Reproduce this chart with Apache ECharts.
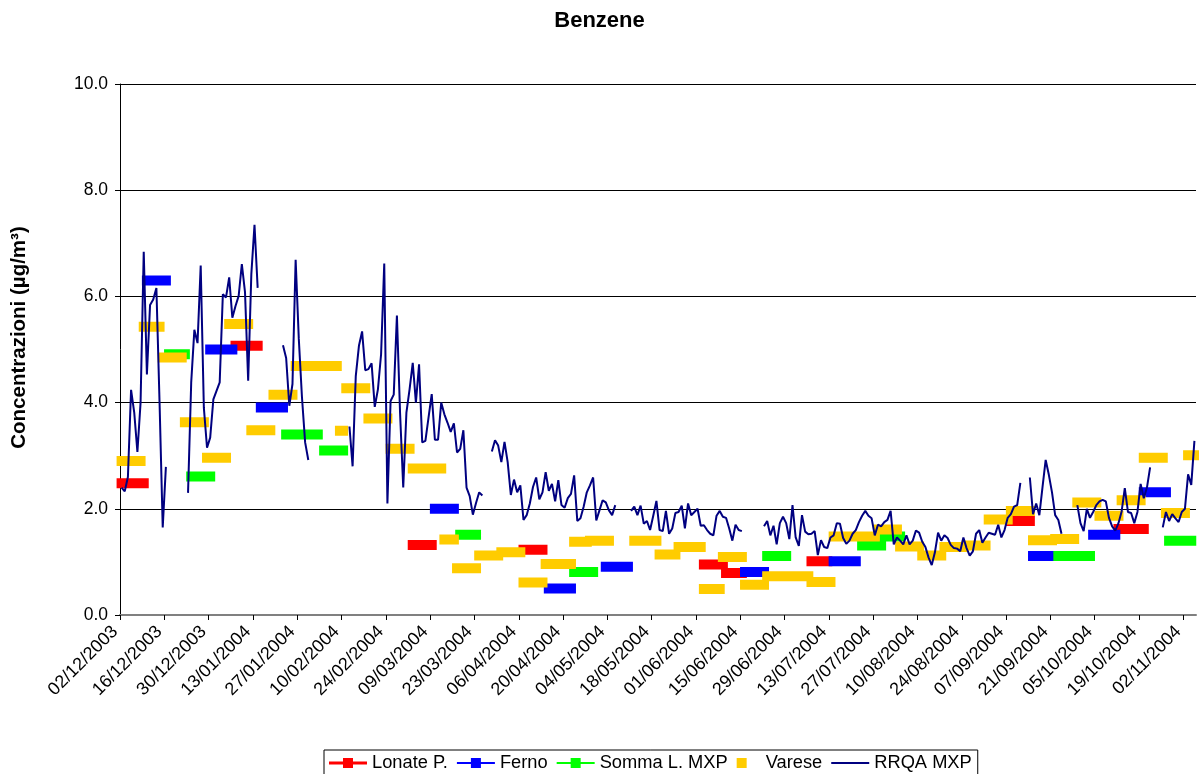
<!DOCTYPE html>
<html>
<head>
<meta charset="utf-8">
<title>Benzene</title>
<script src="https://cdn.jsdelivr.net/npm/echarts@6/dist/echarts.min.js"></script>
<style>
  html, body { margin: 0; padding: 0; background: #fff; }
  #main { width: 1199px; height: 774px; }
</style>
</head>
<body>
<div id="main"></div>
<script>
// giorni contati dal 02/12/2003 (giorno 0), un tick ogni 14 giorni
const xTickLabels = [
  "02/12/2003", "16/12/2003", "30/12/2003", "13/01/2004", "27/01/2004",
  "10/02/2004", "24/02/2004", "09/03/2004", "23/03/2004", "06/04/2004",
  "20/04/2004", "04/05/2004", "18/05/2004", "01/06/2004", "15/06/2004",
  "29/06/2004", "13/07/2004", "27/07/2004", "10/08/2004", "24/08/2004",
  "07/09/2004", "21/09/2004", "05/10/2004", "19/10/2004", "02/11/2004"
];

// campagne: [primo giorno, ultimo giorno, media µg/m³]
const lonate = [
  [0, 7, 2.48], [36, 43, 5.07], [92, 98, 1.32], [127, 133, 1.23],
  [184, 190, 0.95], [191, 196, 0.79], [218, 223, 1.01], [281, 287, 1.77],
  [315, 323, 1.62]
];
const ferno = [
  [8, 14, 6.30], [28, 35, 5.00], [44, 51, 3.91], [99, 105, 2.00],
  [135, 142, 0.50], [153, 160, 0.91], [197, 203, 0.81], [225, 232, 1.01],
  [288, 294, 1.11], [307, 314, 1.51], [323, 330, 2.31]
];
const somma = [
  [15, 20, 4.91], [22, 28, 2.61], [52, 62, 3.40], [64, 70, 3.10],
  [107, 112, 1.51], [143, 149, 0.81], [204, 210, 1.11], [234, 240, 1.31],
  [241, 246, 1.48], [296, 306, 1.11], [331, 338, 1.40]
];
const varese = [
  [0, 6, 2.90], [7, 12, 5.43], [13, 19, 4.85], [20, 26, 3.63], [27, 33, 2.96],
  [34, 40, 5.48], [41, 47, 3.48], [48, 54, 4.15], [55, 61, 4.69], [62, 68, 4.69],
  [69, 70, 3.47], [71, 77, 4.27], [78, 84, 3.70], [85, 91, 3.13], [92, 101, 2.76],
  [102, 105, 1.42], [106, 112, 0.88], [113, 119, 1.12], [120, 126, 1.18],
  [127, 133, 0.61], [134, 142, 0.96], [143, 147, 1.38], [148, 154, 1.40],
  [162, 169, 1.40], [170, 175, 1.14], [176, 183, 1.28], [184, 189, 0.49],
  [190, 196, 1.09], [197, 203, 0.57], [204, 210, 0.73], [211, 217, 0.73],
  [218, 224, 0.62], [225, 231, 1.48], [232, 238, 1.48], [239, 245, 1.61],
  [246, 252, 1.29], [253, 259, 1.12], [260, 266, 1.28], [267, 273, 1.31],
  [274, 280, 1.80], [281, 287, 1.96], [288, 294, 1.41], [295, 301, 1.43],
  [302, 308, 2.12], [309, 315, 1.87], [316, 322, 2.16], [323, 329, 2.96],
  [330, 336, 1.92], [337, 339, 3.01]
];

// RRQA MXP: media giornaliera, null = dato mancante
const rrqa = [
  2.40, 2.33, 2.6, 4.24, 3.81, 3.07, 4.0, 6.84, 4.53, 5.84, 5.94, 6.16, 4.0, 1.65, 2.79,
  null, null, null, null, null, null,
  2.30, 4.38, 5.37, 5.12, 6.58, 3.9, 3.15, 3.34, 4.06, 4.22, 4.38, 6.04, 5.98, 6.36,
  5.60, 5.82, 6.01, 6.61, 6.08, 4.41, 6.42, 7.35, 6.16,
  null, null, null, null, null, null, null,
  5.08, 4.84, 3.94, 4.35, 6.69, 5.2, 4.1, 3.25, 2.92,
  null, null, null, null, null, null, null, null, null, null, null, null,
  3.55, 2.80, 4.5, 5.07, 5.34, 4.61, 4.63, 4.74, 3.92, 4.25, 4.91, 6.62, 2.10, 4.03,
  4.15, 5.64, 3.80, 2.40, 3.81, 4.25, 4.75, 4.0, 4.72, 3.25, 3.28, 3.72, 4.16, 3.30,
  3.30, 4.0, 3.78, 3.62, 3.45, 3.61, 3.06, 3.13, 3.48, 2.40, 2.24, 1.89, 2.11, 2.31, 2.25,
  null, null,
  3.08, 3.29, 3.19, 2.88, 3.26, 2.88, 2.26, 2.55, 2.31, 2.44,
  1.79, 1.88, 2.10, 2.41, 2.59, 2.18, 2.31, 2.69, 2.34, 2.47,
  2.14, 2.54, 2.07, 2.02, 2.20, 2.28, 2.63, 1.77, 1.82, 2.04,
  2.31, 2.44, 2.59, 1.78, 1.97, 2.16, 2.12, 1.97, 1.88, 2.07,
  null, null, null, null,
  1.96, 2.04, 1.88, 2.06, 1.72, 1.77, 1.60, 1.87, 2.15, 1.60, 1.58, 1.96, 1.53, 1.63, 1.92, 1.94,
  2.06, 1.63, 2.10, 1.88, 1.94, 2.00, 1.68, 1.69, 1.60, 1.53,
  1.50, 1.87, 1.96, 1.85, 1.83, 1.63, 1.40, 1.70, 1.60, 1.58,
  null, null, null, null, null, null,
  1.67, 1.77, 1.50, 1.68, 1.33, 1.73, 1.85, 1.73, 1.43, 2.07, 1.46, 1.30, 1.88,
  1.57, 1.52, 1.53, 1.58, 1.13, 1.41, 1.28, 1.26, 1.46, 1.50, 1.73, 1.72,
  1.45, 1.34, 1.40, 1.53, 1.60, 1.75, 1.87, 1.96, 1.87, 1.82, 1.50, 1.70,
  1.67, 1.75, 1.79, 1.96, 1.33, 1.46, 1.40, 1.33, 1.50, 1.33, 1.40, 1.59,
  1.55, 1.38, 1.28, 1.08, 0.94, 1.18, 1.55, 1.40, 1.50, 1.45, 1.32,
  1.26, 1.25, 1.20, 1.46, 1.26, 1.12, 1.20, 1.53, 1.60, 1.36, 1.46,
  1.55, 1.53, 1.51, 1.70, 1.46, 1.60, 1.83, 1.90, 2.04, 2.07, 2.49,
  null, null,
  2.59, 1.90, 2.10, 1.88, 2.41, 2.92, 2.64, 2.31, 1.88, 1.79, 1.53,
  null, null, null, null,
  2.07, 1.73, 1.58, 2.00, 1.83, 1.94, 2.07, 2.14, 2.17, 2.14, 1.83, 1.67,
  1.59, 1.73, 1.95, 2.39, 1.94, 1.92, 1.73, 1.94, 2.47, 2.2, 2.4, 2.78,
  null, null, null,
  1.65, 1.94, 1.77, 1.90, 1.82, 1.75, 1.94, 2.0, 2.65, 2.45, 3.28
];

const font = "'Liberation Sans', Arial, sans-serif";

// ogni giorno sta al centro della sua casella
function toBlocks(list) {
  const out = [];
  list.forEach(([from, to, v]) => {
    out.push([from + 0.5, v], [to + 0.5, v], [to + 1, "-"]);
  });
  return out;
}

function blockSeries(name, color, list) {
  return {
    name: name,
    type: "line",
    data: toBlocks(list),
    symbol: "none",
    clip: false,
    color: color,
    lineStyle: { color: color, width: 10, cap: "square" },
    itemStyle: { color: color },
  };
}

const option = {
  animation: false,
  backgroundColor: "#fff",
  title: {
    text: "Benzene",
    left: "center",
    top: 5,
    textStyle: { fontFamily: font, fontSize: 22, fontWeight: "bold", color: "#000" },
  },
  grid: { left: 120, right: 3, top: 84, bottom: 159 },
  legend: {
    left: 324,
    top: 750,
    itemWidth: 38,
    itemHeight: 10,
    itemGap: 9,
    padding: [4, 6, 6, 5],
    borderColor: "#000",
    borderWidth: 1,
    backgroundColor: "#fff",
    itemStyle: { borderWidth: 0 },
    textStyle: { fontFamily: font, fontSize: 18.3, color: "#000" },
    data: [
      { name: "Lonate P.", icon: "path://M0,3.5H14V0H24V3.5H38V6.5H24V10H14V6.5H0Z" },
      { name: "Ferno", icon: "path://M0,4H14V0H24V4H38V6H24V10H14V6H0Z" },
      { name: "Somma L. MXP", icon: "path://M0,4H14V0H24V4H38V6H24V10H14V6H0Z" },
      { name: "Varese", icon: "path://M0,0H10V10H0Z" },
      { name: "RRQA MXP", icon: "path://M0,0H38V2H0Z" },
    ],
  },
  xAxis: {
    type: "value",
    min: 0,
    max: 340,
    interval: 14,
    axisLine: { lineStyle: { color: "#808080", width: 2 } },
    axisTick: {
      length: 5,
      lineStyle: { color: "#000" },
      customValues: xTickLabels.map((_, i) => i * 14),
    },
    splitLine: { show: false },
    axisLabel: {
      rotate: 45,
      margin: 9,
      padding: [0, 7, 0, 0],
      fontFamily: font,
      fontSize: 18,
      color: "#000",
      customValues: xTickLabels.map((_, i) => i * 14),
      formatter: (v) => (v % 14 === 0 ? xTickLabels[v / 14] : ""),
    },
  },
  yAxis: {
    type: "value",
    min: 0,
    max: 10,
    interval: 2,
    name: "Concentrazioni (µg/m³)",
    nameLocation: "middle",
    nameGap: 90,
    nameTextStyle: {
      fontFamily: font,
      fontSize: 20.5,
      fontWeight: "bold",
      color: "#000",
      padding: [0, 0, 0, 24],
    },
    axisLine: { show: true, lineStyle: { color: "#000", width: 1 } },
    axisTick: { show: true, length: 5, lineStyle: { color: "#000" } },
    splitLine: { lineStyle: { color: "#000", width: 1 } },
    axisLabel: {
      margin: 12,
      fontFamily: font,
      fontSize: 17.5,
      color: "#000",
      formatter: (v) => v.toFixed(1),
    },
  },
  series: [
    blockSeries("Lonate P.", "#ff0000", lonate),
    blockSeries("Ferno", "#0000ff", ferno),
    blockSeries("Somma L. MXP", "#00ff00", somma),
    blockSeries("Varese", "#ffcc00", varese),
    {
      name: "RRQA MXP",
      type: "line",
      data: rrqa.map((v, d) => [d + 0.5, v == null ? "-" : v]),
      symbol: "none",
      color: "#000080",
      lineStyle: { color: "#000080", width: 2 },
      itemStyle: { color: "#000080" },
    },
  ],
};

const chart = echarts.init(document.getElementById("main"));
chart.setOption(option);
</script>
</body>
</html>
